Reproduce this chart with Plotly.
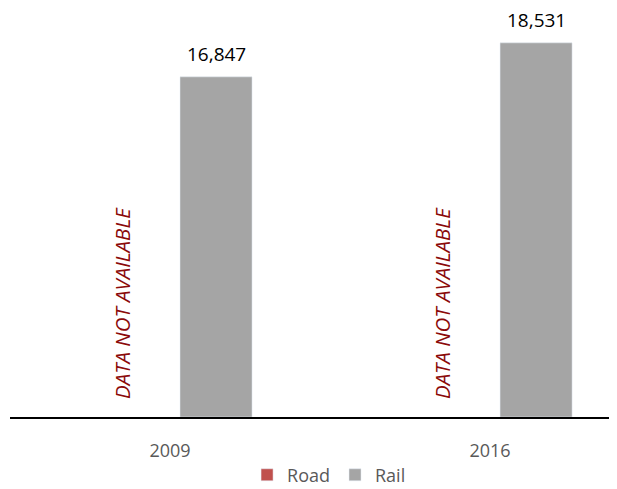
import plotly.graph_objects as go

years = ["2009", "2016"]
road = [None, None]
rail = [16847, 18531]
na_text = "DATA NOT AVAILABLE"

fig = go.Figure()
fig.add_trace(go.Bar(name="Road", x=years, y=road, marker_color="#C0504D"))
fig.add_trace(go.Bar(name="Rail", x=years, y=rail, marker_color="#A5A5A5"))

for i, v in enumerate(rail):
    fig.add_annotation(x=i, y=v, text=f"{v:,}", showarrow=False, xshift=46,
                       yanchor="bottom", yshift=8,
                       font=dict(size=19, color="#000000", family="Open Sans"))
for i, v in enumerate(road):
    if v is None:
        fig.add_annotation(x=i, y=0, text=f"<i>{na_text}</i>", showarrow=False,
                           xshift=-48, textangle=-90, yanchor="bottom", yshift=16,
                           font=dict(size=20.5, color="#8B0A0A", family="Open Sans"))

# the page body adds an 8px margin, so the figure is sized to fit the window
fig.update_layout(
    width=609, height=481,
    margin=dict(l=2, r=5, t=0, b=72, autoexpand=False),
    paper_bgcolor="white", plot_bgcolor="white",
    barmode="group", bargap=0.425, bargroupgap=0.217,
    font=dict(family="Open Sans", color="#595959", size=18),
    showlegend=True,
    legend=dict(orientation="h", x=0.53, xanchor="center", y=-0.142, yanchor="middle",
                font=dict(size=18, color="#595959"), itemwidth=30,
                tracegroupgap=0, bgcolor="rgba(0,0,0,0)"),
)
fig.update_xaxes(type="category", range=[-0.5, 1.381], showline=True, linecolor="black",
                 linewidth=2, showgrid=False, ticks="", ticklabelstandoff=16,
                 tickfont=dict(size=18, color="#595959"))
fig.update_yaxes(range=[0, 20257], visible=False, showgrid=False)

fig.write_html("out.html")
